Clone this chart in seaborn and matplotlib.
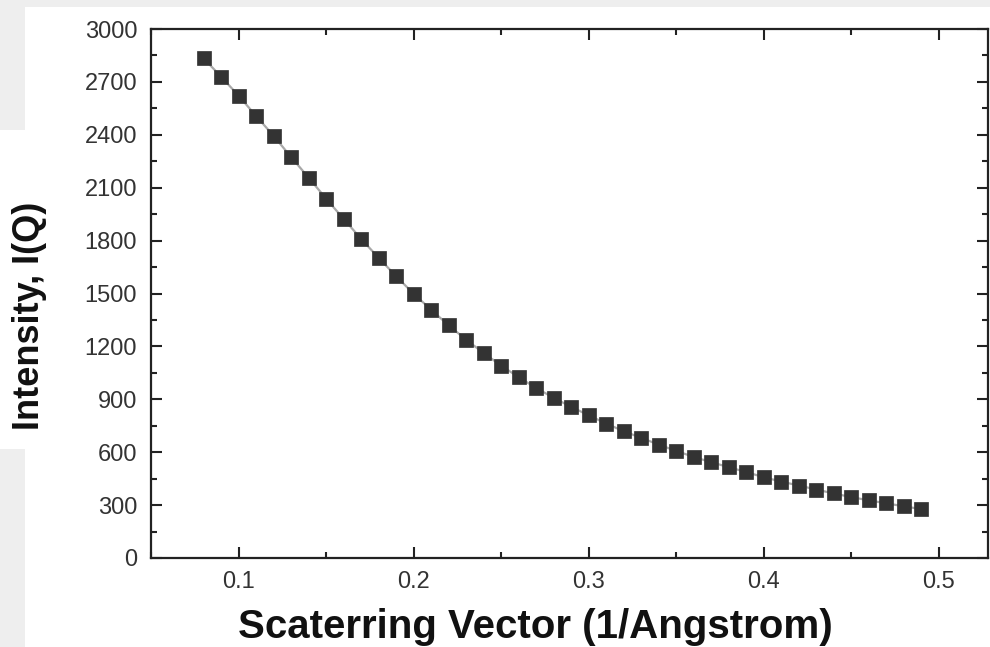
import seaborn as sns
import pandas as pd
import matplotlib.pyplot as plt
from matplotlib.patches import Rectangle
from matplotlib.ticker import MultipleLocator

# Scattering data
q_values = [0.08, 0.09, 0.10, 0.11, 0.12, 0.13, 0.14, 0.15, 0.16, 0.17,
            0.18, 0.19, 0.20, 0.21, 0.22, 0.23, 0.24, 0.25, 0.26, 0.27,
            0.28, 0.29, 0.30, 0.31, 0.32, 0.33, 0.34, 0.35, 0.36, 0.37,
            0.38, 0.39, 0.40, 0.41, 0.42, 0.43, 0.44, 0.45, 0.46, 0.47,
            0.48, 0.49]
intensity = [2834, 2730, 2622, 2507, 2394, 2274, 2157, 2038, 1923, 1810,
             1702, 1598, 1498, 1408, 1319, 1238, 1162, 1091, 1025, 964,
             908, 857, 809, 762, 719, 681, 643, 607, 573, 543,
             515, 487, 458, 433, 411, 388, 366, 345, 327, 310,
             293, 277]

x_ticks = [0.1, 0.2, 0.3, 0.4, 0.5]
y_ticks = list(range(0, 3001, 300))

df = pd.DataFrame({'q': q_values, 'I': intensity})

sns.set_style("ticks")
plt.rcParams['font.family'] = ['Liberation Sans', 'DejaVu Sans']

fig = plt.figure(figsize=(9.9, 6.47), dpi=100)
fig.patch.set_facecolor('white')

# screenshot-style grey margins
grey = '#eeeeee'
fig.patches.append(Rectangle((0, 1 - 7 / 647), 1, 7 / 647, transform=fig.transFigure,
                             facecolor=grey, edgecolor='none', zorder=0))
fig.patches.append(Rectangle((0, (647 - 130) / 647), 25 / 990, 123 / 647, transform=fig.transFigure,
                             facecolor=grey, edgecolor='none', zorder=0))
fig.patches.append(Rectangle((0, 0), 25 / 990, (647 - 449) / 647, transform=fig.transFigure,
                             facecolor=grey, edgecolor='none', zorder=0))

ax = fig.add_axes([151 / 990, 89 / 647, 837 / 990, 529 / 647])
ax.set_facecolor('white')

sns.lineplot(data=df, x='q', y='I', ax=ax, color='#a8a8a8', linewidth=1.6,
             marker='s', markersize=9.5, markerfacecolor='#333333',
             markeredgecolor='#333333', markeredgewidth=0.5)

ax.set_xlim(0.05, 0.528)
ax.set_ylim(0, 3000)
ax.set_xticks(x_ticks)
ax.set_yticks(y_ticks)
ax.set_xticklabels([f'{v:.1f}' for v in x_ticks])
ax.xaxis.set_minor_locator(MultipleLocator(0.05))
ax.yaxis.set_minor_locator(MultipleLocator(150))

for side in ['top', 'right', 'bottom', 'left']:
    ax.spines[side].set_visible(True)
    ax.spines[side].set_linewidth(1.6)
    ax.spines[side].set_color('#222222')

ax.tick_params(which='both', direction='in', top=True, right=True,
               color='#222222', width=1.5)
ax.tick_params(which='major', length=8, labelsize=17, labelcolor='#333333')
ax.tick_params(which='minor', length=4)
ax.tick_params(axis='x', which='major', pad=9)
ax.tick_params(axis='y', which='major', pad=10)

ax.set_xlabel('Scaterring Vector (1/Angstrom)', fontsize=29, fontweight='bold', color='#111111')
ax.xaxis.set_label_coords(0.459, -0.152)
ax.xaxis.label.set_va('baseline')

ax.set_ylabel('Intensity, I(Q)', fontsize=26, fontweight='bold', color='#111111')
ax.yaxis.set_label_coords(-0.1446, 0.457)
ax.yaxis.label.set_va('center')

plt.savefig('out.png', dpi=100)
plt.close()
